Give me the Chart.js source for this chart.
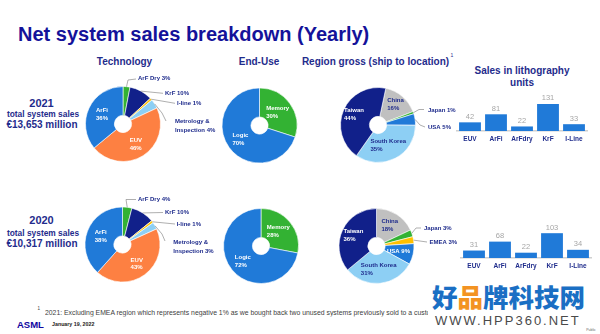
<!DOCTYPE html>
<html><head><meta charset="utf-8">
<script src="https://cdn.jsdelivr.net/npm/chart.js@4.4.1/dist/chart.umd.min.js"></script>
<style>
html,body{margin:0;padding:0;background:#fff;}
#page{position:relative;width:600px;height:334px;overflow:hidden;background:#fff;font-family:'Liberation Sans',Arial,sans-serif;}
canvas.layer{position:absolute;left:0;top:0;}
.t{position:absolute;white-space:nowrap;font-weight:bold;color:#1f2c8c;line-height:1;}
.c{transform:translate(-50%,-50%);}
.l{transform:translate(0,-50%);}
</style></head><body><div id="page">
<div class="t l" style="left:18px;top:34px;font-size:20px;color:#14129a;">Net system sales breakdown (Yearly)</div>
<div class="t c" style="left:124.5px;top:62px;font-size:10px;">Technology</div>
<div class="t c" style="left:259px;top:62px;font-size:10px;">End-Use</div>
<div class="t c" style="left:375.5px;top:62px;font-size:10px;">Region gross (ship to location)</div>
<div class="t c" style="left:452px;top:55px;font-size:5px;font-weight:normal;">1</div>
<div class="t c" style="left:522px;top:71px;font-size:10px;">Sales in lithography</div>
<div class="t c" style="left:522px;top:82.5px;font-size:10px;">units</div>

<div class="t c" id="y0" style="left:41.5px;top:102.7px;font-size:11px;"></div>
<div class="t c" style="left:43px;top:114px;font-size:8.4px;">total system sales</div>
<div class="t c" id="s0" style="left:42px;top:125px;font-size:10px;"></div>
<div class="t c" id="y1" style="left:41.5px;top:220px;font-size:11px;"></div>
<div class="t c" style="left:43px;top:232.7px;font-size:8.4px;">total system sales</div>
<div class="t c" id="s1" style="left:42px;top:244px;font-size:10px;"></div>

<div class="t" style="left:37.5px;top:307px;font-size:4.5px;font-weight:normal;color:#404040;">1</div>
<div class="t l" style="left:45px;top:313px;width:383px;overflow:hidden;font-size:6.85px;font-weight:normal;color:#404040;">2021: Excluding EMEA region which represents negative 1% as we bought back two unused systems previously sold to a customer</div>
<div class="t l" style="left:17px;top:324.5px;font-size:9.5px;color:#10069f;">ASML</div>
<div class="t l" style="left:52px;top:324.5px;font-size:5.3px;color:#222;">January 19, 2022</div>
<div class="t l" style="left:432px;top:296px;font-size:25.5px;color:#1a6fc4;font-family:'Noto Sans CJK SC',sans-serif;font-weight:900;">好<span style="color:#f39322">品</span>牌科技网</div>
<div class="t l" style="left:435px;top:320px;font-size:13px;font-weight:normal;letter-spacing:2px;color:#4a4a4a;">WWW.HPP360.NET</div>
<div class="t c" style="left:591px;top:331px;font-size:3.5px;font-weight:normal;color:#666;">Public</div>

<canvas class="layer" id="tech2021" width="600" height="334"></canvas>
<canvas class="layer" id="tech2020" width="600" height="334"></canvas>
<canvas class="layer" id="end2021" width="600" height="334"></canvas>
<canvas class="layer" id="end2020" width="600" height="334"></canvas>
<canvas class="layer" id="reg2021" width="600" height="334"></canvas>
<canvas class="layer" id="reg2020" width="600" height="334"></canvas>
<canvas class="layer" id="units2021" width="600" height="334"></canvas>
<canvas class="layer" id="units2020" width="600" height="334"></canvas>
</div>
<script>
// ---------- data ----------
const years = ['2021', '2020'];
const totalSales = ['€13,653 million', '€10,317 million'];

const techCategories = ['ArF Dry', 'KrF', 'I-line', 'Metrology & Inspection', 'EUV', 'ArFi'];
const tech2021 = [3, 10, 1, 4, 46, 36];
const tech2020 = [4, 10, 1, 3, 43, 38];

const endUseCategories = ['Memory', 'Logic'];
const endUse2021 = [30, 70];
const endUse2020 = [28, 72];

const regionCategories2021 = ['China', 'Japan', 'USA', 'South Korea', 'Taiwan'];
const region2021 = [16, 1, 5, 35, 44];
const regionCategories2020 = ['China', 'Japan', 'EMEA', 'USA', 'South Korea', 'Taiwan'];
const region2020 = [18, 3, 3, 9, 31, 36];

const unitCategories = ['EUV', 'ArFi', 'ArFdry', 'KrF', 'I-Line'];
const units2021 = [42, 81, 22, 131, 33];
const units2020 = [31, 68, 22, 103, 34];

// ---------- styles ----------
const NAVY_TXT = '#1f2c8c';
const BLUE = '#207ad8', ORANGE = '#fd8042', GREEN = '#33b233', DARK = '#11208a',
      YELLOW = '#ffc000', LIGHT = '#8dcff4', GREY = '#c0c0c0';
const FONT = "'Liberation Sans', Arial, sans-serif";
Chart.defaults.font.family = FONT;
const W = 600, H = 334, R = 37.8;

document.getElementById('y0').textContent = years[0];
document.getElementById('y1').textContent = years[1];
document.getElementById('s0').textContent = totalSales[0];
document.getElementById('s1').textContent = totalSales[1];

const labelCfg = {};
const pieLabels = {
  id: 'pieLabels',
  afterDatasetsDraw(chart) {
    const cfg = labelCfg[chart.canvas.id];
    if (!cfg) return;
    const ctx = chart.ctx;
    const meta = chart.getDatasetMeta(0);
    const cats = chart.data.labels, vals = chart.data.datasets[0].data;
    ctx.save();
    ctx.font = 'bold 6px ' + FONT;
    meta.data.forEach((arc, i) => {
      const spec = cfg[i];
      if (!spec) return;
      const mid = (arc.startAngle + arc.endAngle) / 2;
      if (spec.out) {
        const sx = arc.x + Math.cos(mid) * arc.outerRadius;
        const sy = arc.y + Math.sin(mid) * arc.outerRadius;
        ctx.strokeStyle = '#8c8c8c';
        ctx.lineWidth = 0.7;
        ctx.beginPath();
        ctx.moveTo(sx, sy);
        spec.path.forEach(q => ctx.lineTo(q[0], q[1]));
        ctx.stroke();
        const txt = cats[i] + ' ' + vals[i] + '%';
        const lines = txt.split(/(?<=&) /);
        ctx.fillStyle = NAVY_TXT;
        ctx.textAlign = 'left';
        ctx.textBaseline = 'middle';
        lines.forEach((ln, k) => ctx.fillText(ln, spec.x, spec.y + k * 8.6));
      } else {
        const rr = arc.outerRadius * (spec.r || 0.63);
        const x = arc.x + Math.cos(mid) * rr, y = arc.y + Math.sin(mid) * rr;
        const lines = spec.one ? [cats[i] + ' ' + vals[i] + '%'] : [cats[i], vals[i] + '%'];
        const mw = Math.max(...lines.map(s => ctx.measureText(s).width));
        ctx.fillStyle = spec.color;
        ctx.textAlign = 'left';
        ctx.textBaseline = 'middle';
        const lh = 7.7, y0 = y - (lines.length - 1) * lh / 2;
        lines.forEach((ln, k) => ctx.fillText(ln, x - mw / 2, y0 + k * lh));
      }
    });
    ctx.restore();
  }
};

function makePie(id, cats, vals, colors, cx, cy, rotation, labels) {
  labelCfg[id] = labels;
  new Chart(document.getElementById(id), {
    type: 'doughnut',
    data: { labels: cats, datasets: [{ data: vals, backgroundColor: colors, borderColor: '#ffffff', borderWidth: 0.6 }] },
    options: {
      responsive: false, animation: false, events: [],
      cutout: '23%', rotation: rotation,
      layout: { padding: { left: cx - R, top: cy - R, right: W - cx - R, bottom: H - cy - R } },
      plugins: { legend: { display: false }, tooltip: { enabled: false } }
    },
    plugins: [pieLabels]
  });
}

const techColors = [GREEN, DARK, YELLOW, LIGHT, ORANGE, BLUE];
makePie('tech2021', techCategories, tech2021, techColors, 123, 124, 0, [
  { out: true, x: 138, y: 78.5, path: [[128, 80], [136, 79]] },
  { out: true, x: 165, y: 93.3, path: [[163, 93.3]] },
  { out: true, x: 177, y: 103.3, path: [[175, 103.3]] },
  { out: true, x: 175, y: 121.7, path: [[162, 113], [166, 121]] },
  { color: '#fff', r: 0.64 },
  { color: '#fff', r: 0.62 }
]);
makePie('tech2020', techCategories, tech2020, techColors, 122.5, 244.5, 0, [
  { out: true, x: 138, y: 199.3, path: [[126, 199.5], [136, 199.5]] },
  { out: true, x: 165, y: 212.3, path: [[163, 212.5]] },
  { out: true, x: 176.7, y: 224.3, path: [[175, 224]] },
  { out: true, x: 173.3, y: 242.7, path: [[162, 234], [165, 241]] },
  { color: '#fff', r: 0.64 },
  { color: '#fff', r: 0.62 }
]);
const endColors = [GREEN, BLUE];
makePie('end2021', endUseCategories, endUse2021, endColors, 259.5, 125.5, 0, [
  { color: '#fff', r: 0.6 }, { color: '#fff', r: 0.63 }
]);
makePie('end2020', endUseCategories, endUse2020, endColors, 261, 246, 0, [
  { color: '#fff', r: 0.6 }, { color: '#fff', r: 0.63 }
]);
makePie('reg2021', regionCategories2021, region2021, [GREY, GREEN, BLUE, LIGHT, DARK], 378, 125, 12, [
  { color: NAVY_TXT, r: 0.72 },
  { out: true, x: 428, y: 110.5, path: [[419, 109.5], [424, 109.5]] },
  { out: true, x: 428, y: 127, path: [[420, 125], [425, 127]] },
  { color: NAVY_TXT, r: 0.6 },
  { color: '#fff', r: 0.7 }
]);
makePie('reg2020', regionCategories2020, region2020, [GREY, GREEN, YELLOW, BLUE, LIGHT, DARK], 376.5, 246, 0, [
  { color: NAVY_TXT, r: 0.66 },
  { out: true, x: 424, y: 228, path: [[416, 228], [421, 228]] },
  { out: true, x: 429.5, y: 242, path: [[427, 242]] },
  { color: '#fff', r: 0.6, one: true },
  { color: NAVY_TXT, r: 0.62 },
  { color: '#fff', r: 0.68 }
]);

const barValues = {
  id: 'barValues',
  afterDatasetsDraw(chart) {
    const ctx = chart.ctx, meta = chart.getDatasetMeta(0), vals = chart.data.datasets[0].data;
    ctx.save();
    ctx.font = '7.5px ' + FONT;
    ctx.fillStyle = '#a6a6a6';
    ctx.textAlign = 'center';
    ctx.textBaseline = 'bottom';
    meta.data.forEach((b, i) => ctx.fillText(String(vals[i]), b.x, b.y - 2));
    ctx.restore();
  }
};
function makeBars(id, vals, pad, yMax) {
  new Chart(document.getElementById(id), {
    type: 'bar',
    data: { labels: unitCategories, datasets: [{ data: vals, backgroundColor: BLUE, barPercentage: 0.84, categoryPercentage: 1 }] },
    options: {
      responsive: false, animation: false, events: [],
      layout: { padding: pad },
      plugins: { legend: { display: false }, tooltip: { enabled: false } },
      scales: {
        x: {
          grid: { display: false, drawTicks: false },
          border: { display: true, color: '#d0d0d0', width: 1.5 },
          ticks: { font: { size: 6.5, weight: 'bold', family: FONT }, color: NAVY_TXT, padding: 4.5, maxRotation: 0, autoSkip: false }
        },
        y: { display: false, min: 0, max: yMax }
      }
    },
    plugins: [barValues]
  });
}
makeBars('units2021', units2021, { left: 457, right: 13, top: 98, bottom: 186.2 }, 160);
makeBars('units2020', units2020, { left: 461, right: 9, top: 225, bottom: 59.2 }, 137);
</script>
</body></html>
